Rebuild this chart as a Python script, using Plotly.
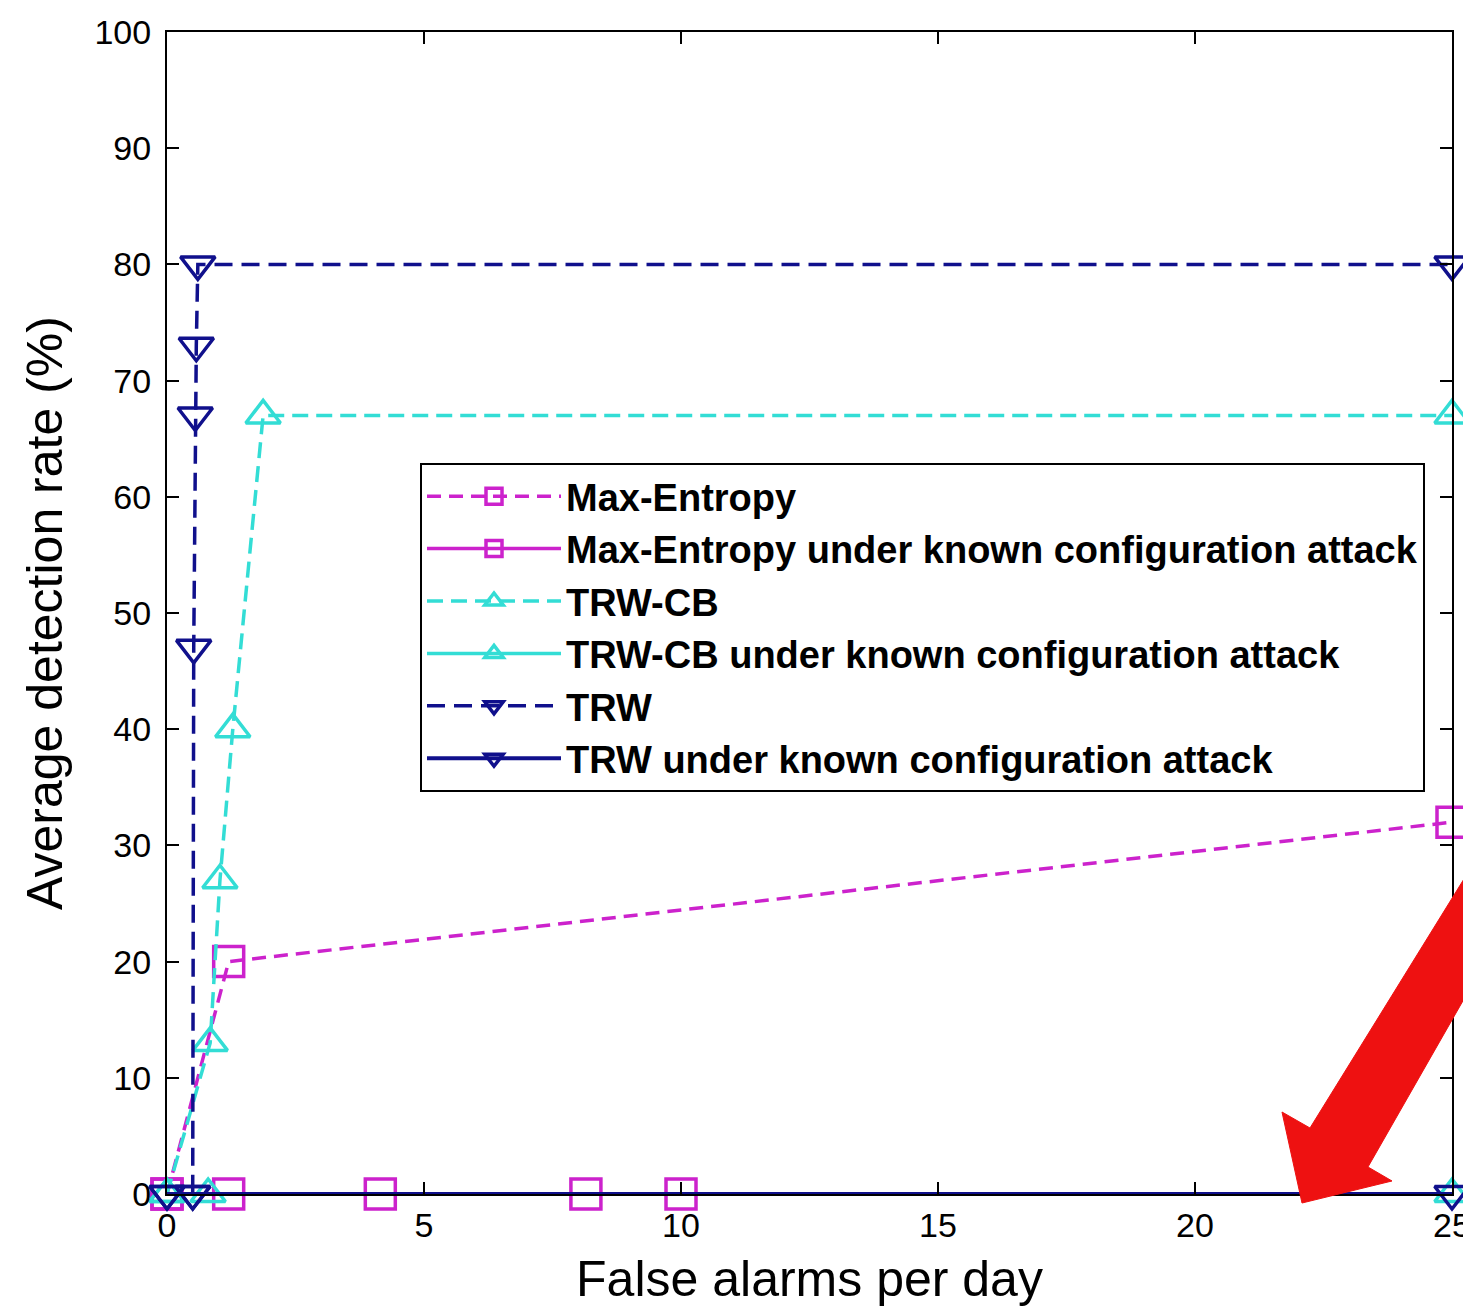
import plotly.graph_objects as go

# ---- data ----
me_x = [0, 1.2, 25]
me_y = [0, 20, 32]

me_att_x = [0, 1.2, 4.15, 8.15, 10]
me_att_y = [0, 0, 0, 0, 0]

cb_x = [0, 0.84, 1.03, 1.28, 1.87, 25]
cb_y = [0, 13, 27, 40, 67, 67]

cb_att_x = [0, 0.8, 25]
cb_att_y = [0, 0, 0]

trw_x = [0, 0.5, 0.52, 0.55, 0.57, 0.6, 25]
trw_y = [0, 0, 47, 67, 73, 80, 80]

trw_att_x = [0, 0.5, 25]
trw_att_y = [0, 0, 0]

names = [
    "Max-Entropy",
    "Max-Entropy under known configuration attack",
    "TRW-CB",
    "TRW-CB under known configuration attack",
    "TRW",
    "TRW under known configuration attack",
]

MAG = "#CC22CC"
CYA = "#33DDD5"
NAV = "#10108C"

FONT = "Liberation Sans, Arial, sans-serif"

fig = go.Figure()

def add(x, y, name, color, dash, symbol, group, width=3.5):
    fig.add_trace(go.Scatter(
        x=x, y=y, name=name, mode="lines+markers",
        line=dict(color=color, width=width, dash=dash),
        marker=dict(symbol=symbol, size=30, color=color,
                    line=dict(color=color, width=3.5)),
        cliponaxis=False, legendgroup=group,
    ))

add(me_x, me_y, names[0], MAG, "14px,8px", "square-open", "g0")
add(me_att_x, me_att_y, names[1], MAG, "solid", "square-open", "g1")
add(cb_x, cb_y, names[2], CYA, "16px,8px", "triangle-up-open", "g2")
add(cb_att_x, cb_att_y, names[3], CYA, "solid", "triangle-up-open", "g3")
add(trw_x, trw_y, names[4], NAV, "18px,9px", "triangle-down-open", "g4")
add(trw_att_x, trw_att_y, names[5], NAV, "solid", "triangle-down-open", "g5", width=4)

# ---- layout geometry (page body has an 8px margin) ----
OFF = 8
L, R, T, B = 159, 19, 24, 113
PW, PH = 1285, 1162
W, H = L + PW + R, T + PH + B

def to_paper(px, py):
    # px, py are target page pixels
    return (px - OFF - L) / PW, (T + PH + OFF - py) / PH

# ---- red arrow (decoration) ----
arrow_px = [(1540, 756), (1310, 1128), (1282, 1112), (1302, 1203),
            (1392, 1181), (1368, 1167), (1540, 866)]
pts = [to_paper(*p) for p in arrow_px]
path = "M " + " L ".join(f"{a:.5f},{b:.5f}" for a, b in pts) + " Z"
fig.add_shape(type="path", path=path, xref="paper", yref="paper",
              fillcolor="#EE1111", line=dict(color="#EE1111", width=1),
              layer="above")

axis_common = dict(
    showline=True, linecolor="black", linewidth=2, mirror="ticks",
    ticks="inside", ticklen=12, tickwidth=2, tickcolor="black",
    showgrid=False, zeroline=False, automargin=False,
    tickfont=dict(family=FONT, size=34, color="black"),
)

lx, ly = to_paper(420, 463)

fig.update_layout(
    width=W, height=H,
    margin=dict(l=L, r=R, t=T, b=B),
    paper_bgcolor="white", plot_bgcolor="white",
    font=dict(family=FONT, color="black"),
    xaxis=dict(range=[0, 25], tickvals=[0, 5, 10, 15, 20, 25],
               title=dict(text="False alarms per day",
                          font=dict(family=FONT, size=50), standoff=20),
               ticklabelstandoff=0,
               **axis_common),
    yaxis=dict(range=[0, 100], tickvals=list(range(0, 101, 10)),
               title=dict(text="Average detection rate (%)",
                          font=dict(family=FONT, size=50), standoff=16),
               ticklabelstandoff=7,
               **axis_common),
    legend=dict(x=lx, y=ly,
                xanchor="left", yanchor="top",
                bgcolor="white", bordercolor="black", borderwidth=2,
                font=dict(family=FONT, size=38, color="black", weight="bold"),
                tracegroupgap=0, itemwidth=134),
    showlegend=True,
)

fig.write_html("out.html")
